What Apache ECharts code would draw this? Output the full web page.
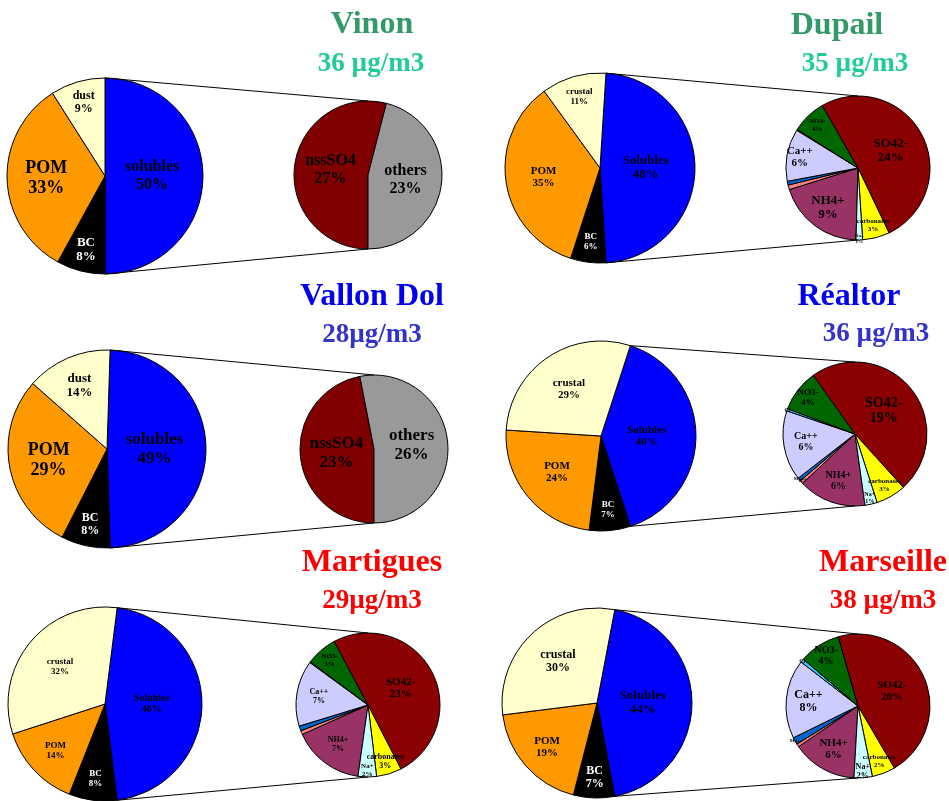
<!DOCTYPE html>
<html><head><meta charset="utf-8">
<script src="https://cdn.jsdelivr.net/npm/echarts@6/dist/echarts.min.js"></script>
<style>html,body{margin:0;padding:0;background:#fff}#chart{width:949px;height:801px}</style>
</head><body><div id="chart"></div>
<script>
// ---------------- DATA ----------------
const siteNames = ['Vinon', 'Dupail', 'Vallon Dol', 'Réaltor', 'Martigues', 'Marseille'];
const siteConcentrations = ['36 µg/m3', '35 µg/m3', '28µg/m3', '36 µg/m3', '29µg/m3', '38 µg/m3'];

const mainCategoriesDust = ['solubles', 'BC', 'POM', 'dust'];
const mainCategoriesCrustal = ['Solubles', 'BC', 'POM', 'crustal'];
const vinonMain = [50, 8, 33, 9];
const dupailMain = [48, 6, 35, 11];
const vallonMain = [49, 8, 29, 14];
const realtorMain = [40, 7, 24, 29];
const martiguesMain = [46, 8, 14, 32];
const marseilleMain = [44, 7, 19, 30];

const splitCategories = ['nssSO4', 'others'];
const vinonSplit = [27, 23];
const vallonSplit = [23, 26];

const ionCategories = ['NH4+', 'K+', 'Mg++', 'Ca++', 'Cl-', 'NO3-', 'SO42-', 'carbonates', 'Na+'];
const dupailIons = [9.4, 0.5, 0.4, 5.6, 0.1, 3.7, 24.4, 2.9, 0.7];
const realtorIons = [6.1, 0.3, 0.3, 6.3, 0.2, 3.8, 19.3, 2.7, 1.1];
const martiguesIons = [7.4, 0.4, 0.5, 6.8, 0.1, 3.2, 23.1, 2.6, 1.9];
const marseilleIons = [6.4, 0.3, 0.7, 7.8, 0.35, 4.1, 20.2, 2.3, 1.8];

// ---------------- STYLE / LAYOUT ----------------
const mainColors = ['#0000FF', '#000000', '#FF9900', '#FFFFCC'];
const mainLabelColors = ['#000', '#fff', '#000', '#000'];
const splitColors = ['#800000', '#999999'];
const ionColors = ['#993366', '#FF8080', '#0066CC', '#CCCCFF', '#33CCFF', '#006600', '#8B0000', '#FFFF00', '#CCFFFF'];
const FONT = 'Liberation Serif';

const green = ['#339966', '#22CC99'], blue = ['#0000EE', '#3333CC'], red = ['#FF0000', '#FF0000'];

const panels = [
  {site: 0, main: vinonMain, mainCats: mainCategoriesDust, sub: vinonSplit, subCats: splitCategories, subColors: splitColors, subStart: 180,
   mc: [105, 176], mr: 98, sc: [368, 175], sr: 74, title: [372, 25], subt: [371, 64], colors: green,
   mainFont: [16, 13, 18, 12], subFont: [16, 16]},
  {site: 1, main: dupailMain, mainCats: mainCategoriesCrustal, sub: dupailIons, subCats: ionCategories, subColors: ionColors, subStart: 181.6,
   mc: [600, 168], mr: 95, sc: [858, 168], sr: 72, title: [837, 26], subt: [855, 64], colors: green,
   mainFont: [13, 9, 11, 9], subFont: [13, 0, 0, 11, 0, 7, 13, 7, 5]},
  {site: 2, main: vallonMain, mainCats: mainCategoriesDust, sub: vallonSplit, subCats: splitCategories, subColors: splitColors, subStart: 180,
   mc: [107, 449], mr: 99, sc: [374, 449], sr: 74, title: [372, 297], subt: [372, 335], colors: blue,
   mainFont: [17, 12, 18, 13], subFont: [17, 17]},
  {site: 3, main: realtorMain, mainCats: mainCategoriesCrustal, sub: realtorIons, subCats: ionCategories, subColors: ionColors, subStart: 172,
   mc: [601, 436], mr: 95, sc: [855, 434], sr: 72, title: [849, 297], subt: [876, 334], colors: blue,
   mainFont: [11, 9, 11, 11], subFont: [10, 5, 5, 10, 6, 9, 14, 7, 6]},
  {site: 4, main: martiguesMain, mainCats: mainCategoriesCrustal, sub: martiguesIons, subCats: ionCategories, subColors: ionColors, subStart: 188,
   mc: [105, 704], mr: 97, sc: [368, 705], sr: 72, title: [372, 563], subt: [372, 601], colors: red,
   mainFont: [10, 9, 9, 9], subFont: [8, 0, 0, 8, 0, 7, 11, 8, 7]},
  {site: 5, main: marseilleMain, mainCats: mainCategoriesCrustal, sub: marseilleIons, subCats: ionCategories, subColors: ionColors, subStart: 183.2,
   mc: [597, 703], mr: 95, sc: [858, 706], sr: 72, title: [883, 563], subt: [883, 601], colors: red,
   mainFont: [13, 12, 11, 12], subFont: [11, 0, 5, 12, 6, 10, 11, 7, 8]}
];

const tinyNames = ['K+', 'Mg++', 'Cl-'];

function mainRf(frac) { return frac >= 0.4 ? 0.45 : frac >= 0.2 ? 0.57 : frac >= 0.12 ? 0.67 : 0.75; }
function subRf(frac) { return frac >= 0.4 ? 0.47 : frac >= 0.12 ? 0.65 : frac >= 0.05 ? 0.78 : frac >= 0.02 ? 0.87 : 0.94; }

function pieSeries(cats, vals, colors, fonts, labelColors, center, radius, startCW, rfFn) {
  const sum = vals.reduce((a, b) => a + b, 0);
  const mids = [];
  let acc = 0;
  vals.forEach(v => { mids.push(startCW + (acc + v / 2) / sum * 360); acc += v; });
  return {
    type: 'pie', center: center, radius: radius, startAngle: 90 - startCW, clockwise: true,
    avoidLabelOverlap: false, silent: true, animation: false, minAngle: 0, minShowLabelAngle: 0,
    itemStyle: {borderColor: '#000', borderWidth: 1},
    label: {
      show: true, position: 'inside', fontFamily: FONT, fontWeight: 'bold', color: '#000',
      formatter: p => tinyNames.indexOf(p.name) >= 0 ? p.name : p.name + '\n' + Math.round(p.value) + '%'
    },
    labelLine: {show: false},
    emphasis: {disabled: true},
    data: cats.map((c, i) => ({
      name: c, value: vals[i], itemStyle: {color: colors[i]},
      label: {show: fonts[i] > 0, fontSize: fonts[i] || 8, lineHeight: Math.round((fonts[i] || 8) * 1.1), color: labelColors[i] || '#000'}
    })),
    labelLayout: function (p) {
      const a = mids[p.dataIndex] * Math.PI / 180;
      const rf = rfFn(vals[p.dataIndex] / sum);
      const d = (rf - 0.5) * radius;
      return {dx: d * Math.sin(a), dy: -d * Math.cos(a)};
    }
  };
}

const series = [];
const graphic = [];
panels.forEach(p => {
  const sol = p.main[0] / p.main.reduce((a, b) => a + b, 0);
  const startCW = 90 - sol * 180;
  series.push(pieSeries(p.mainCats, p.main, mainColors, p.mainFont, mainLabelColors, p.mc, p.mr, startCW, mainRf));
  series.push(pieSeries(p.subCats, p.sub, p.subColors, p.subFont, [], p.sc, p.sr, p.subStart, subRf));
  // connectors from solubles slice edges to secondary pie
  const a1 = startCW * Math.PI / 180, a2 = (startCW + sol * 360) * Math.PI / 180;
  graphic.push({type: 'line', silent: true, z: 10, shape: {x1: p.mc[0] + p.mr * Math.sin(a1), y1: p.mc[1] - p.mr * Math.cos(a1), x2: p.sc[0], y2: p.sc[1] - p.sr}, style: {stroke: '#000', lineWidth: 1}});
  graphic.push({type: 'line', silent: true, z: 10, shape: {x1: p.mc[0] + p.mr * Math.sin(a2), y1: p.mc[1] - p.mr * Math.cos(a2), x2: p.sc[0], y2: p.sc[1] + p.sr}, style: {stroke: '#000', lineWidth: 1}});
  graphic.push({type: 'text', silent: true, x: p.title[0], y: p.title[1], style: {text: siteNames[p.site], fontSize: 32, fontWeight: 'bold', fontFamily: FONT, fill: p.colors[0], align: 'center', verticalAlign: 'middle'}});
  graphic.push({type: 'text', silent: true, x: p.subt[0], y: p.subt[1], style: {text: siteConcentrations[p.site], fontSize: 27, fontWeight: 'bold', fontFamily: FONT, fill: p.colors[1], align: 'center', verticalAlign: 'middle'}});
});

const chart = echarts.init(document.getElementById('chart'), null, {renderer: 'canvas'});
chart.setOption({backgroundColor: '#fff', animation: false, series: series, graphic: graphic});
</script></body></html>
